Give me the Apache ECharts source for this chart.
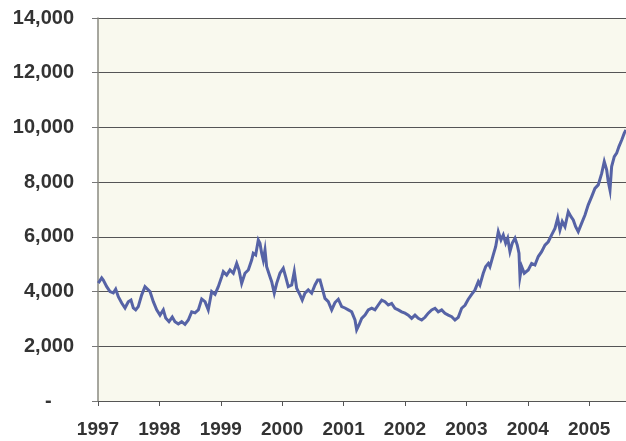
<!DOCTYPE html>
<html>
<head>
<meta charset="utf-8">
<script src="https://cdn.jsdelivr.net/npm/echarts@6/dist/echarts.min.js"></script>
<style>
html,body{margin:0;padding:0;background:#fff;}
#c{width:626px;height:441px;}
</style>
</head>
<body>
<div id="c"></div>
<script>
// Decimal years of each observation
var years = [
1997.005,1997.060,1997.086,1997.142,1997.195,1997.249,1997.288,1997.331,1997.386,1997.440,
1997.493,1997.537,1997.575,1997.614,1997.656,1997.712,1997.765,1997.793,1997.847,1997.901,
1997.956,1998.010,1998.064,1998.103,1998.156,1998.210,1998.254,1998.308,1998.363,1998.417,
1998.471,1998.526,1998.580,1998.634,1998.689,1998.743,1998.796,1998.852,1998.906,1998.959,
1999.015,1999.041,1999.096,1999.150,1999.204,1999.259,1999.296,1999.340,1999.394,1999.448,
1999.503,1999.529,1999.568,1999.611,1999.638,1999.666,1999.692,1999.720,1999.747,1999.801,
1999.829,1999.871,1999.910,1999.964,2000.018,2000.057,2000.099,2000.155,2000.197,2000.236,
2000.290,2000.327,2000.371,2000.425,2000.480,2000.534,2000.578,2000.616,2000.653,2000.697,
2000.751,2000.806,2000.860,2000.914,2000.969,2001.023,2001.077,2001.132,2001.186,2001.213,
2001.251,2001.295,2001.349,2001.402,2001.458,2001.511,2001.565,2001.621,2001.674,2001.728,
2001.783,2001.837,2001.891,2001.946,2002.000,2002.054,2002.109,2002.163,2002.217,2002.272,
2002.326,2002.379,2002.435,2002.489,2002.542,2002.598,2002.651,2002.705,2002.761,2002.814,
2002.868,2002.923,2002.977,2003.031,2003.086,2003.140,2003.194,2003.221,2003.275,2003.314,
2003.357,2003.384,2003.438,2003.477,2003.520,2003.564,2003.601,2003.640,2003.673,2003.710,
2003.748,2003.792,2003.829,2003.857,2003.873,2003.901,2003.943,2004.008,2004.063,2004.117,
2004.171,2004.226,2004.280,2004.334,2004.389,2004.443,2004.487,2004.524,2004.562,2004.606,
2004.660,2004.704,2004.741,2004.780,2004.822,2004.878,2004.932,2004.985,2005.041,2005.094,
2005.148,2005.204,2005.246,2005.285,2005.311,2005.339,2005.366,2005.409,2005.448,2005.485,
2005.530,2005.572,2005.599
];
// Index values
var values = [
4310,4500,4420,4180,4000,3950,4090,3810,3580,3400,
3630,3690,3400,3330,3450,3880,4180,4200,4000,3630,
3330,3140,3330,3030,2900,3070,2900,2815,2900,2800,
2960,3260,3220,3330,3730,3630,3330,4000,3900,4180,
4540,4730,4600,4790,4670,5030,4790,4300,4670,4790,
5150,5400,5340,5890,5770,5400,5150,5520,4910,4540,
4360,3940,4300,4670,4850,4540,4180,4240,4730,4120,
3880,3690,3940,4060,3940,4240,4420,4420,4120,3750,
3630,3330,3600,3720,3450,3400,3330,3260,2960,2600,
2780,3020,3140,3330,3390,3330,3510,3690,3630,3510,
3570,3390,3330,3260,3210,3140,3020,3140,3020,2960,
3060,3210,3330,3390,3260,3330,3210,3140,3080,2960,
3060,3390,3500,3720,3900,4060,4360,4240,4670,4910,
5030,4910,5340,5640,6190,5890,6070,5770,5950,5460,
5770,5950,5700,5400,4540,4910,4670,4790,5030,4970,
5280,5460,5700,5820,6070,6310,6680,6250,6560,6370,
6920,6740,6620,6370,6190,6500,6800,7170,7470,7770,
7900,8320,8750,8450,8020,7710,8570,8930,9060,9300,
9540,9790,9910
];
var yTicks = [0,2000,4000,6000,8000,10000,12000,14000];
var xStart = 1997, xEnd = 2005.6;

var data = years.map(function(y,i){return [y, values[i]];});

var chart = echarts.init(document.getElementById('c'), null, {renderer:'canvas'});
chart.setOption({
  animation:false,
  backgroundColor:'#ffffff',
  grid:{left:98, right:0, top:18, bottom:40, show:true, backgroundColor:'#f9f9ee', borderWidth:0},
  xAxis:{
    type:'value', min:xStart, max:xEnd, interval:1,
    axisLine:{show:true, lineStyle:{color:'#555', width:1}},
    axisTick:{show:true, length:5, lineStyle:{color:'#555'}},
    splitLine:{show:false},
    axisLabel:{
      margin:19, showMaxLabel:false,
      color:'#333', fontSize:19, fontWeight:'bold', fontFamily:'Liberation Sans, Arial, sans-serif',
      formatter:function(v){ return Math.abs(v-Math.round(v))<1e-6 ? String(Math.round(v)) : ''; }
    }
  },
  yAxis:{
    type:'value', min:yTicks[0], max:yTicks[yTicks.length-1], interval:2000,
    axisLine:{show:true, lineStyle:{color:'#8a8a80', width:1.5}},
    axisTick:{show:true, length:6, lineStyle:{color:'#777'}},
    splitLine:{show:true, lineStyle:{color:'#555', width:1}},
    axisLabel:{
      margin:24, color:'#333', fontSize:20, fontWeight:'bold', fontFamily:'Liberation Sans, Arial, sans-serif',
      formatter:function(v){ return v===0 ? '-    ' : v.toLocaleString('en-US'); }
    }
  },
  series:[{
    type:'line', data:data, showSymbol:false, symbol:'none',
    lineStyle:{color:'#5663a6', width:3, join:'miter'},
    z:3
  }]
});
</script>
</body>
</html>
